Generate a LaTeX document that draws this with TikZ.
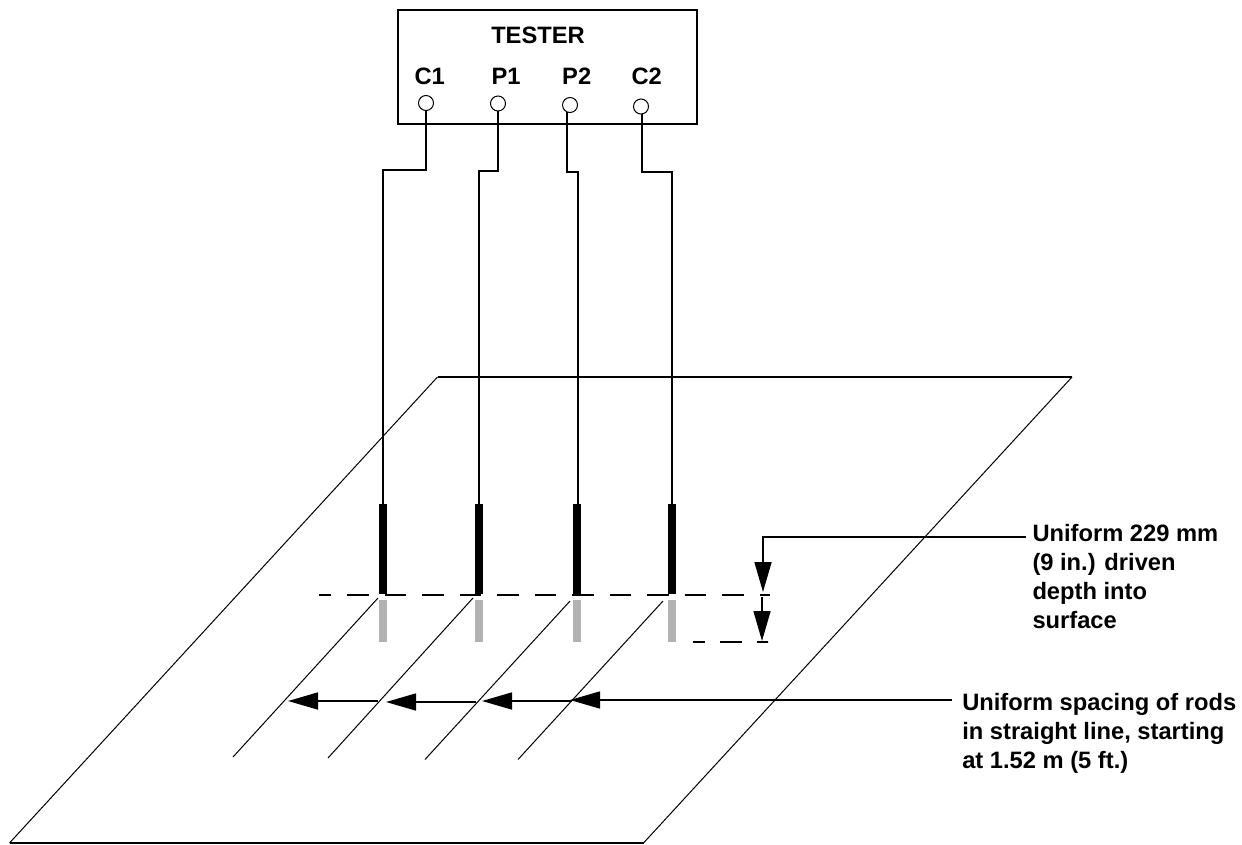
\documentclass[tikz,border=0pt]{standalone}
\usepackage{fontspec}
\setmainfont{Liberation Sans}
\usetikzlibrary{arrows.meta}
\tikzset{
  x=1pt,y=-1pt,
  every node/.style={inner sep=0pt,outer sep=0pt},
  wire/.style={draw=black,line width=1.6pt},
  thin line/.style={draw=black,line width=1pt},
  edge line/.style={draw=black,line width=2pt},
  term/.style={circle,draw=black,line width=1pt,minimum size=15pt,fill=white},
  rod/.style={fill=black,minimum width=8pt,minimum height=90pt},
  ghost/.style={fill=black!30,minimum width=8pt,minimum height=42pt},
  lbl/.style={font=\bfseries\fontsize{23.7}{29}\selectfont},
  note/.style={lbl,align=left,anchor=north west},
  ground/.style={draw=black,line width=1.6pt,dash pattern=on 21.5pt off 16pt,dash phase=9.5pt},
  dim/.style={draw=black,line width=1.6pt,-{Triangle[length=30pt,width=17pt]}},
}
\begin{document}
\begin{tikzpicture}
\useasboundingbox (0,0) rectangle (1242,844);
% ground plane
\coordinate (pa) at (437.5,377);
\coordinate (pb) at (1072,377);
\coordinate (pc) at (643.5,843);
\coordinate (pd) at (9.5,843);
\draw[thin line] (pd) -- (pa);
\draw[edge line] (pa) -- (pb);
\draw[thin line] (pb) -- (pc);
\draw[edge line] (pc) -- (pd);
% tester
\node[draw=black,line width=1.7pt,minimum width=299pt,minimum height=114pt] (tester) at (547.5,67) {};
\node[lbl] (tname) at (538,35.7) {TESTER};
\node[lbl] (lc1) at (429.7,76.7) {C1};
\node[lbl] (lp1) at (506,76.7) {P1};
\node[lbl] (lp2) at (576.7,76.7) {P2};
\node[lbl] (lc2) at (646.7,76.7) {C2};
\node[term] (c1) at (426,103) {};
\node[term] (p1) at (498,103.5) {};
\node[term] (p2) at (570,105) {};
\node[term] (c2) at (641,106.5) {};
% rods
\node[rod] (r1) at (383,549) {};
\node[rod] (r2) at (479,549) {};
\node[rod] (r3) at (577,549) {};
\node[rod] (r4) at (672,549) {};
\node[ghost] (g1) at (383,621) {};
\node[ghost] (g2) at (479,621) {};
\node[ghost] (g3) at (577,621) {};
\node[ghost] (g4) at (672,621) {};
% wires
\draw[wire] (c1.south) -- (426,170) -- (383,170) -- (r1.north);
\draw[wire] (p1.south) -- (498,171) -- (479,171) -- (r2.north);
\draw[wire] (567,112) -- (567,172) -- (578,172) -- (578,504);
\draw[wire] (642,114) -- (642,172) -- (672,172) -- (r4.north);
% ground dashes
\coordinate (da) at (319,595);
\coordinate (db) at (770,595);
\draw[ground] (da) -- (db);
\coordinate (dc) at (693,642);
\coordinate (dd) at (768,642);
\draw[draw=black,line width=1.6pt,dash pattern=on 12pt off 15pt on 22pt off 15pt on 11pt off 0pt] (dc) -- (dd);
% rod spacing lines
\draw[thin line] (378,598) -- (233,757);
\draw[thin line] (473,598) -- (328,758);
\draw[thin line] (570,601) -- (425,759.5);
\draw[thin line] (663,601) -- (518,759.5);
% depth callout
\node[note] (depth) at (1032.5,524) {Uniform 229 mm\\(9 in.) driven\\depth into\\surface};
\coordinate (d0) at (1025.7,537);
\draw[dim] (d0) -- (763,537) -- (763,592);
\draw[dim] (762,597) -- (762,641);
% spacing callout
\node[note] (spacing) at (962.3,693) {Uniform spacing of rods\\in straight line, starting\\at 1.52 m (5 ft.)};
\coordinate (s0) at (952,700);
\draw[dim] (s0) -- (570,700);
\draw[dim] (572,701) -- (482,701);
\draw[dim] (476,702) -- (386,702);
\draw[dim] (378,701) -- (288,701);
\end{tikzpicture}
\end{document}
